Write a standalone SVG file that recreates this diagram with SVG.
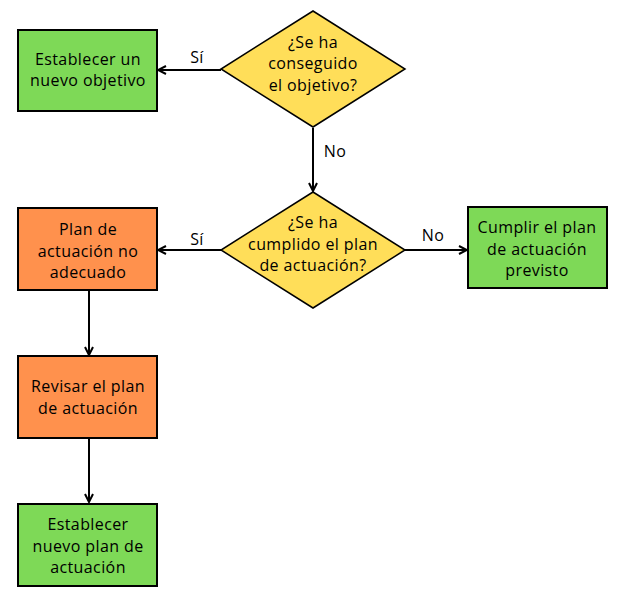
<svg xmlns="http://www.w3.org/2000/svg" width="624" height="603" viewBox="0 0 624 603">
<style>
.g{fill:#7ED957;stroke:#000;stroke-width:2}
.o{fill:#FF914D;stroke:#000;stroke-width:2}
.y{fill:#FFDE59;stroke:#000;stroke-width:1.5}
text{font-family:"Open Sans","Liberation Sans",sans-serif;font-size:16px;letter-spacing:0.4px;fill:#000;text-anchor:middle;dominant-baseline:central;font-weight:500}
.c{fill:none;stroke:#000;stroke-width:2}
</style>
<defs>
<marker id="a" viewBox="0 0 10 10" refX="9" refY="5" markerWidth="5" markerHeight="5" orient="auto" markerUnits="strokeWidth">
<path d="M1,1 L9,5 L1,9" fill="none" stroke="#000" stroke-width="2"/>
</marker>
</defs>
<g id="connectors">
<path class="c" d="M221,70 H158" marker-end="url(#a)"/>
<path class="c" d="M313,128 V191" marker-end="url(#a)"/>
<path class="c" d="M221,250 H158" marker-end="url(#a)"/>
<path class="c" d="M405,250 H467" marker-end="url(#a)"/>
<path class="c" d="M89,291 V355" marker-end="url(#a)"/>
<path class="c" d="M89,438 V502" marker-end="url(#a)"/>
<text x="197" y="57">Sí</text>
<text x="335" y="151">No</text>
<text x="197" y="239">Sí</text>
<text x="433" y="235">No</text>
</g>
<g id="n1">
<rect class="g" x="18" y="30" width="139" height="81"/>
<text x="88" y="59">Establecer un</text>
<text x="88" y="80">nuevo objetivo</text>
</g>
<g id="d1">
<polygon class="y" points="313,11 405,69 313,127 221,69"/>
<text x="313" y="42">¿Se ha</text>
<text x="313" y="63">conseguido</text>
<text x="313" y="85">el objetivo?</text>
</g>
<g id="d2">
<polygon class="y" points="313,192 405,250 313,308 221,250"/>
<text x="313" y="222">¿Se ha</text>
<text x="313" y="244">cumplido el plan</text>
<text x="313" y="265">de actuación?</text>
</g>
<g id="n2">
<rect class="g" x="468" y="207" width="139" height="81"/>
<text x="537" y="227">Cumplir el plan</text>
<text x="537" y="249">de actuación</text>
<text x="537" y="270">previsto</text>
</g>
<g id="n3">
<rect class="o" x="18" y="208" width="139" height="82"/>
<text x="88" y="229">Plan de</text>
<text x="88" y="251">actuación no</text>
<text x="88" y="272">adecuado</text>
</g>
<g id="n4">
<rect class="o" x="18" y="356" width="139" height="82"/>
<text x="88" y="386">Revisar el plan</text>
<text x="88" y="408">de actuación</text>
</g>
<g id="n5">
<rect class="g" x="18" y="504" width="139" height="82"/>
<text x="88" y="524">Establecer</text>
<text x="88" y="546">nuevo plan de</text>
<text x="88" y="567">actuación</text>
</g>
</svg>
